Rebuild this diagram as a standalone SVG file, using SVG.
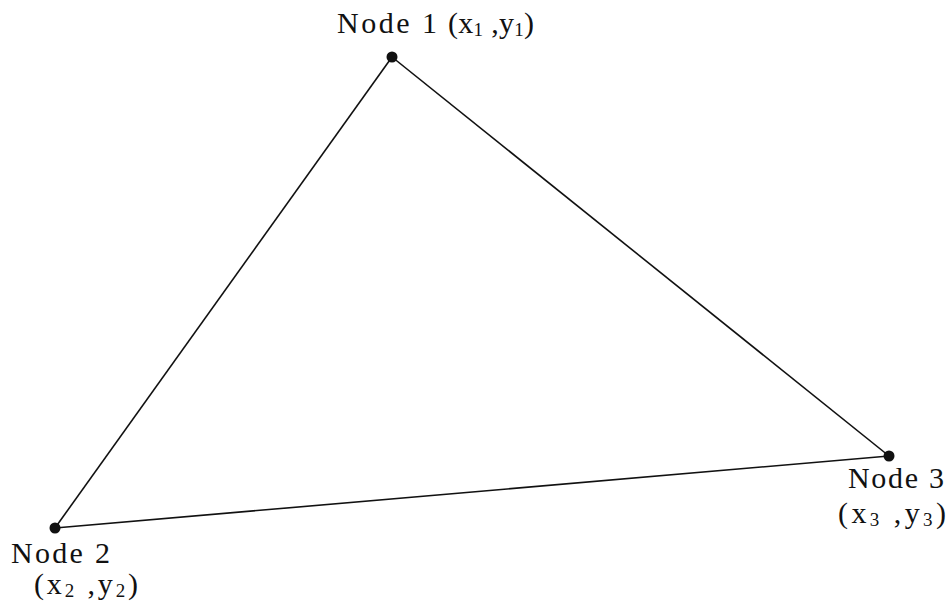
<svg xmlns="http://www.w3.org/2000/svg" width="951" height="611" viewBox="0 0 951 611">
<style>
text{font-family:"Liberation Serif","DejaVu Serif",serif;font-size:30px;fill:#111}
.sub{font-size:19px}
.edge{stroke:#111;stroke-width:1.6;fill:none}
.dot{fill:#111}
</style>
<rect width="951" height="611" fill="#fff"/>
<g id="connectors">
<line class="edge" x1="392" y1="57" x2="55" y2="528"/>
<line class="edge" x1="392" y1="57" x2="889" y2="456"/>
<line class="edge" x1="55" y1="528" x2="889" y2="456"/>
</g>
<g id="node1">
<circle class="dot" cx="392" cy="57" r="5.5"/>
<text x="337" y="33" textLength="100" lengthAdjust="spacing" xml:space="preserve">Node 1</text>
<text x="448" y="33" textLength="86" lengthAdjust="spacing" xml:space="preserve">(x<tspan class="sub" dy="3">1</tspan><tspan dy="-3"> ,y</tspan><tspan class="sub" dy="3">1</tspan><tspan dy="-3">)</tspan></text>
</g>
<g id="node2">
<circle class="dot" cx="55" cy="528" r="5.5"/>
<text x="11" y="563" textLength="99" lengthAdjust="spacing">Node 2</text>
<text x="34" y="594" textLength="104" lengthAdjust="spacing" xml:space="preserve">(x<tspan class="sub" dy="3">2</tspan><tspan dy="-3"> ,y</tspan><tspan class="sub" dy="3">2</tspan><tspan dy="-3">)</tspan></text>
</g>
<g id="node3">
<circle class="dot" cx="889" cy="456" r="5.5"/>
<text x="848" y="488" textLength="96" lengthAdjust="spacing">Node 3</text>
<text x="838" y="523" textLength="108" lengthAdjust="spacing" xml:space="preserve">(x<tspan class="sub" dy="3">3</tspan><tspan dy="-3"> ,y</tspan><tspan class="sub" dy="3">3</tspan><tspan dy="-3">)</tspan></text>
</g>
</svg>
